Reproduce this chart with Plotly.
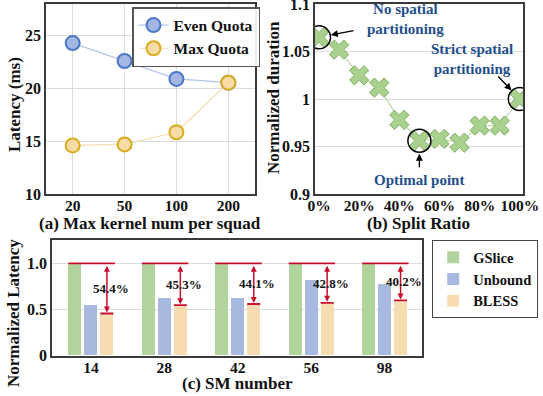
import plotly.graph_objects as go

W, H = 543, 396
FONT = "Liberation Serif"

# ---------------- data ----------------
# (a)
kernel_nums = ["20", "50", "100", "200"]
even_quota = [24.3, 22.6, 20.9, 20.55]
max_quota = [14.6, 14.7, 15.85, 20.55]

# (b)
split_ratio = [0, 10, 20, 30, 40, 50, 60, 70, 80, 90, 100]
norm_duration = [1.065, 1.052, 1.025, 1.012, 0.978, 0.956, 0.958, 0.954, 0.972, 0.972, 1.0]
highlight_idx = [0, 5, 10]
ratio_ticks = [0, 20, 40, 60, 80, 100]

# (c)
sm_numbers = ["14", "28", "42", "56", "98"]
gslice = [1.0, 1.0, 1.0, 1.0, 1.0]
unbound = [0.54, 0.625, 0.625, 0.82, 0.77]
bless = [0.456, 0.547, 0.559, 0.572, 0.598]
reduction_labels = ["54.4%", "45.3%", "44.1%", "42.8%", "40.2%"]

# ---------------- style ----------------
BLUE_FILL, BLUE_EDGE, BLUE_LINE = "#a3b7e2", "#4a78c8", "#b4c6ea"
GOLD_FILL, GOLD_EDGE, GOLD_LINE = "#f8dca8", "#d8ac1c", "#f6dcae"
GREEN_FILL, GREEN_EDGE, GREEN_LINE = "#a9d18e", "#7fae62", "#bcdca6"
BAR_GREEN, BAR_BLUE, BAR_ORANGE = "#b0d49c", "#a8b9e0", "#f6dcb0"
RED = "#c8102e"
NAVY = "#1f4e8c"
AXIS = "#3a3a3a"
GRID = "#dcdcdc"

fig = go.Figure()

# ---------- panel (a) ----------
xa = list(range(len(kernel_nums)))
fig.add_trace(go.Scatter(
    x=xa, y=even_quota, name="Even Quota", mode="lines+markers",
    line=dict(color=BLUE_LINE, width=1.2),
    marker=dict(size=14, color=BLUE_FILL, line=dict(color=BLUE_EDGE, width=2)),
    xaxis="x", yaxis="y", legend="legend"))
fig.add_trace(go.Scatter(
    x=xa, y=max_quota, name="Max Quota", mode="lines+markers",
    line=dict(color=GOLD_LINE, width=1.2),
    marker=dict(size=14, color=GOLD_FILL, line=dict(color=GOLD_EDGE, width=2)),
    xaxis="x", yaxis="y", legend="legend"))

# ---------- panel (b) ----------
fig.add_trace(go.Scatter(
    x=split_ratio, y=norm_duration, mode="lines+markers", showlegend=False,
    line=dict(color=GREEN_LINE, width=1.2),
    marker=dict(symbol="x", size=17, color=GREEN_FILL, line=dict(color=GREEN_EDGE, width=1)),
    xaxis="x2", yaxis="y2"))
fig.add_trace(go.Scatter(
    x=[split_ratio[i] for i in highlight_idx], y=[norm_duration[i] for i in highlight_idx],
    mode="markers", showlegend=False, hoverinfo="skip",
    marker=dict(symbol="circle-open", size=23, color="black", line=dict(width=1.5)),
    xaxis="x2", yaxis="y2"))

# ---------- panel (c) ----------
OFF, BW = 0.218, 0.177
xc = list(range(len(sm_numbers)))
for j, (name, vals, col) in enumerate([("GSlice", gslice, BAR_GREEN),
                                       ("Unbound", unbound, BAR_BLUE),
                                       ("BLESS", bless, BAR_ORANGE)]):
    fig.add_trace(go.Bar(
        x=[i + (j - 1) * OFF for i in xc], y=vals, width=BW, name=name,
        marker=dict(color=col, line=dict(width=0)),
        xaxis="x3", yaxis="y3", legend="legend2"))

# red reference lines
for i in xc:
    x_left = i - OFF - BW / 2
    x_right = i + OFF + BW / 2 + 0.02
    fig.add_trace(go.Scatter(x=[x_left, x_right], y=[gslice[i], gslice[i]], mode="lines",
                             line=dict(color=RED, width=1.8), showlegend=False,
                             hoverinfo="skip", xaxis="x3", yaxis="y3"))
    fig.add_trace(go.Scatter(x=[i + OFF - BW / 2, i + OFF + BW / 2], y=[bless[i], bless[i]],
                             mode="lines", line=dict(color=RED, width=1.8), showlegend=False,
                             hoverinfo="skip", xaxis="x3", yaxis="y3"))

annotations = []
for i in xc:
    xa_ = i + OFF
    annotations.append(dict(
        x=xa_, y=bless[i] + 0.01, ax=xa_, ay=gslice[i] - 0.01,
        xref="x3", yref="y3", axref="x3", ayref="y3", text="",
        showarrow=True, arrowhead=2, arrowsize=0.8, arrowwidth=1.5, arrowcolor=RED,
        arrowside="end+start"))
    annotations.append(dict(
        x=i + OFF + 0.05, y=(gslice[i] + bless[i]) / 2, xref="x3", yref="y3",
        text=reduction_labels[i], showarrow=False, font=dict(size=13, color="#111"),
        xanchor="center", yanchor="middle"))

# panel (b) callouts
annotations += [
    dict(x=split_ratio[0], y=norm_duration[0], xref="x2", yref="y2", text="",
         showarrow=True, arrowhead=2, arrowsize=1, arrowwidth=1.4, arrowcolor="black",
         ax=36, ay=-7, standoff=12),
    dict(x=split_ratio[10], y=norm_duration[10], xref="x2", yref="y2", text="",
         showarrow=True, arrowhead=2, arrowsize=1, arrowwidth=1.4, arrowcolor="black",
         ax=-23, ay=-24, standoff=12),
    dict(x=split_ratio[5], y=norm_duration[5], xref="x2", yref="y2", text="",
         showarrow=True, arrowhead=2, arrowsize=1, arrowwidth=1.4, arrowcolor="black",
         ax=0, ay=28, standoff=13),
    dict(x=405 / W, y=1 - 19 / H, xref="paper", yref="paper",
         text="No spatial<br>partitioning", showarrow=False,
         font=dict(size=15, color=NAVY)),
    dict(x=472 / W, y=1 - 59 / H, xref="paper", yref="paper",
         text="Strict spatial<br>partitioning", showarrow=False,
         font=dict(size=15, color=NAVY)),
    dict(x=419 / W, y=1 - 180 / H, xref="paper", yref="paper",
         text="Optimal point", showarrow=False, font=dict(size=15, color=NAVY)),
]

# axis titles
annotations += [
    dict(x=14 / W, y=1 - 105 / H, xref="paper", yref="paper", text="Latency (ms)",
         textangle=-90, showarrow=False, font=dict(size=17)),
    dict(x=150 / W, y=1 - 223 / H, xref="paper", yref="paper",
         text="(a) Max kernel num per squad", showarrow=False, font=dict(size=17)),
    dict(x=273 / W, y=1 - 98 / H, xref="paper", yref="paper", text="Normalized duration",
         textangle=-90, showarrow=False, font=dict(size=17)),
    dict(x=418 / W, y=1 - 223 / H, xref="paper", yref="paper",
         text="(b) Split Ratio", showarrow=False, font=dict(size=17)),
    dict(x=13 / W, y=1 - 313 / H, xref="paper", yref="paper", text="Normalized Latency",
         textangle=-90, showarrow=False, font=dict(size=17)),
    dict(x=237 / W, y=1 - 383 / H, xref="paper", yref="paper",
         text="(c) SM number", showarrow=False, font=dict(size=17)),
]
for a in annotations:
    if a.get("xref") == "paper":
        a["xanchor"] = "center"
        a["yanchor"] = "middle"

axis_common = dict(showline=True, linecolor=AXIS, linewidth=1.5, mirror=True,
                   ticks="", zeroline=False, automargin=False, ticklabeloverflow="allow")
xtick = dict(tickfont=dict(size=15.5, color="#111"), ticklabelstandoff=-3)
ytick = dict(tickfont=dict(size=16, color="#111"))

fig.update_layout(
    width=W, height=H, margin=dict(l=0, r=0, t=0, b=0, autoexpand=False),
    paper_bgcolor="white", plot_bgcolor="white",
    font=dict(family=FONT, weight="bold", color="#111"),
    annotations=annotations,
    xaxis=dict(domain=[46 / W, 255 / W], range=[-0.514, 3.514],
               tickvals=xa, ticktext=kernel_nums, showgrid=True, gridcolor=GRID,
               anchor="y", **axis_common, **xtick),
    yaxis=dict(domain=[1 - 194 / H, 1 - 4 / H], range=[10, 28],
               tickvals=[10, 15, 20, 25], showgrid=True, gridcolor=GRID,
               anchor="x", **axis_common, **ytick),
    xaxis2=dict(domain=[315 / W, 523 / W], range=[-2, 101.6],
                tickvals=ratio_ticks, ticktext=[f"{v}%" for v in ratio_ticks],
                showgrid=False, anchor="y2", **axis_common, **xtick),
    yaxis2=dict(domain=[1 - 194 / H, 1 - 4 / H], range=[0.8999, 1.1001],
                tickvals=[0.9, 0.95, 1.0, 1.05, 1.1],
                ticktext=["0.9", "0.95", "1", "1.05", "1.1"],
                showgrid=True, gridcolor=GRID, anchor="x2", **axis_common, **ytick),
    xaxis3=dict(domain=[52 / W, 422 / W], range=[-0.53, 4.51],
                tickvals=xc, ticktext=sm_numbers, showgrid=False,
                anchor="y3", **axis_common, **xtick),
    yaxis3=dict(domain=[1 - 355.5 / H, 1 - 240.3 / H], range=[0, 1.25],
                tickvals=[0, 0.5, 1.0], ticktext=["0", "0.5", "1.0"],
                showgrid=True, gridcolor=GRID, anchor="x3", **axis_common, **ytick),
    legend=dict(x=132 / W, y=1 - 7 / H, xanchor="left", yanchor="top",
                bordercolor="#555", borderwidth=1.5, bgcolor="rgba(255,255,255,0.9)",
                font=dict(size=15.5), tracegroupgap=0, itemwidth=30),
    legend2=dict(x=432 / W, y=1 - 240 / H, xanchor="left", yanchor="top",
                 bordercolor="#444", borderwidth=1.2, bgcolor="white",
                 font=dict(size=14.5), tracegroupgap=0, itemwidth=30),
    bargap=0,
)

fig.write_html("out.html", config={"displayModeBar": False},
               post_script="document.body.style.margin='0';document.body.style.overflow='hidden';")
